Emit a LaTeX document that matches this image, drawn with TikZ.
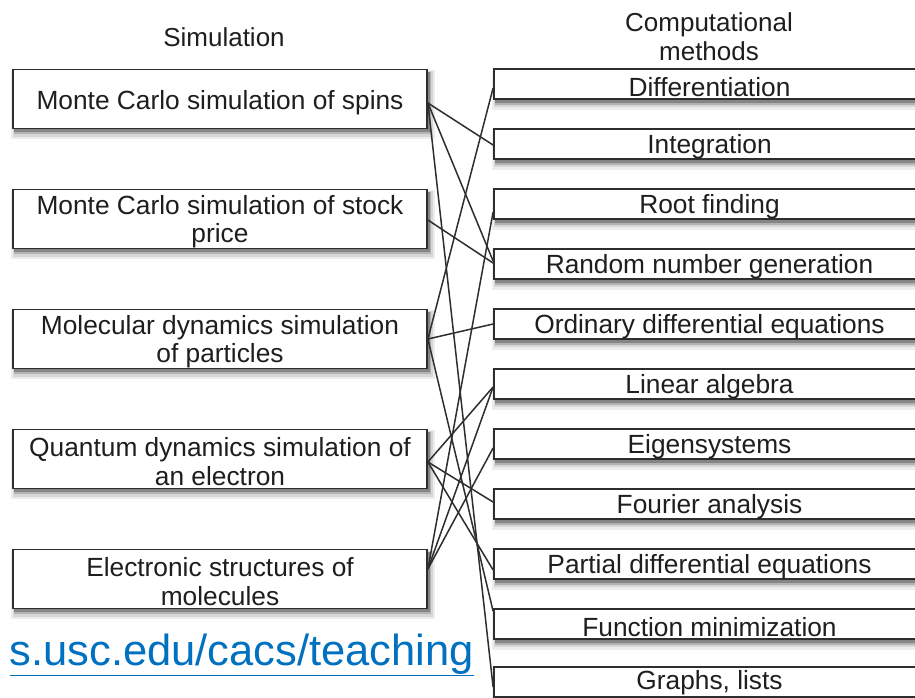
\documentclass[tikz,border=0pt]{standalone}
\usepackage{fontspec}
\setmainfont{Liberation Sans}
\usetikzlibrary{backgrounds}
\definecolor{txt}{HTML}{1E1E1E}
\definecolor{edgec}{HTML}{2E2E2E}
\definecolor{linkc}{HTML}{0070C0}
\tikzset{
  simbox/.style={draw=edgec,line width=1.8pt,fill=white,
    minimum width=414pt,minimum height=59pt,inner sep=0pt},
  methbox/.style={draw=edgec,line width=1.8pt,fill=white,
    minimum width=431pt,minimum height=30pt,inner sep=0pt},
  boxtext/.style={inner sep=0pt,align=center,text=txt,
    font=\fontsize{26.3}{28.3}\selectfont},
  heading/.style={text=txt,align=center,font=\fontsize{26}{29}\selectfont},
  link/.style={draw=edgec,line width=1.5pt},
  shadowA/.style={fill=black!7},
  shadowB/.style={fill=black!16},
  shadowC/.style={fill=black!30},
  shadowD/.style={fill=black!48}
}
\begin{document}
\begin{tikzpicture}[x=1pt,y=-1pt]
\useasboundingbox (0,0) rectangle (915,697);
\clip (0,0) rectangle (915,697);

\node[heading] (h1) at (224,37) {Simulation};
\node[heading] (h2) at (709,37) {Computational\\methods};

\node[simbox] (s1) at (220,99) {};
\node[simbox] (s2) at (220,219) {};
\node[simbox] (s3) at (220,339) {};
\node[simbox] (s4) at (220,459) {};
\node[simbox] (s5) at (220,579) {};
\node[boxtext] (t1) at ([yshift=-4pt]s1.center) {Monte Carlo simulation of spins};
\node[boxtext] (t2) at ([yshift=-2.5pt]s2.center) {Monte Carlo simulation of stock\\price};
\node[boxtext] (t3) at ([yshift=-2.5pt]s3.center) {Molecular dynamics simulation\\of particles};
\node[boxtext] (t4) at ([yshift=-2.5pt]s4.center) {Quantum dynamics simulation of\\an electron};
\node[boxtext] (t5) at ([yshift=-2.5pt]s5.center) {Electronic structures of\\molecules};

\node[methbox] (m1) at (709.5,84) {};
\node[methbox] (m2) at (709.5,144) {};
\node[methbox] (m3) at (709.5,204) {};
\node[methbox] (m4) at (709.5,264) {};
\node[methbox] (m5) at (709.5,324) {};
\node[methbox] (m6) at (709.5,384) {};
\node[methbox] (m7) at (709.5,444) {};
\node[methbox] (m8) at (709.5,504) {};
\node[methbox] (m9) at (709.5,564) {};
\node[methbox] (m10) at (709.5,624) {};
\node[methbox] (m11) at (709.5,682) {};
\node[boxtext] (u1) at ([yshift=-3pt]m1.center) {Differentiation};
\node[boxtext] (u2) at ([yshift=-3pt]m2.center) {Integration};
\node[boxtext] (u3) at ([yshift=-3pt]m3.center) {Root finding};
\node[boxtext] (u4) at ([yshift=-3pt]m4.center) {Random number generation};
\node[boxtext] (u5) at ([yshift=-3pt]m5.center) {Ordinary differential equations};
\node[boxtext] (u6) at ([yshift=-3pt]m6.center) {Linear algebra};
\node[boxtext] (u7) at ([yshift=-3pt]m7.center) {Eigensystems};
\node[boxtext] (u8) at ([yshift=-3pt]m8.center) {Fourier analysis};
\node[boxtext] (u9) at ([yshift=-3pt]m9.center) {Partial differential equations};
\node[boxtext] (u10) at ([yshift=-3pt]m10.center) {Function minimization};
\node[boxtext] (u11) at ([yshift=-1pt]m11.center) {Graphs, lists};

% soft shadows behind the boxes
\begin{scope}[on background layer]
  \fill[white] (0,0) rectangle (915,697);
  \foreach \b in {s1,s2,s3,s4,s5,m1,m2,m3,m4,m5,m6,m7,m8,m9,m10,m11}{
    \fill[shadowA] ([xshift=-1pt,yshift=-1pt]\b.north west) rectangle ([xshift=7pt,yshift=-10pt]\b.south east);
    \fill[shadowB] ([xshift=1pt,yshift=-2pt]\b.north west) rectangle ([xshift=5pt,yshift=-7.5pt]\b.south east);
    \fill[shadowC] ([xshift=2pt,yshift=-3pt]\b.north west) rectangle ([xshift=3.5pt,yshift=-5pt]\b.south east);
    \fill[shadowD] ([xshift=2pt,yshift=-3pt]\b.north west) rectangle ([xshift=2pt,yshift=-3pt]\b.south east);
  }
\end{scope}

% connectors
\coordinate (a1) at ([yshift=-4pt]s1.east);
\coordinate (a2) at ([yshift=-1pt]s2.east);
\coordinate (a3) at (s3.east);
\coordinate (a4) at ([yshift=-3pt]s4.east);
\coordinate (a5) at ([yshift=10pt]s5.east);

\draw[link] (a1) -- ([yshift=-1pt]m2.west);
\draw[link] (a1) -- ([yshift=3pt]m4.west);
\draw[link] (a1) -- ([yshift=-5pt]m11.west);
\draw[link] (a2) -- ([yshift=1pt]m4.west);
\draw[link] (a3) -- ([yshift=-4pt]m1.west);
\draw[link] (a3) -- (m5.west);
\draw[link] (a3) -- ([yshift=-3pt]m10.north west);
\draw[link] (a4) -- ([yshift=-3pt]m6.west);
\draw[link] (a4) -- ([yshift=2pt]m8.west);
\draw[link] (a4) -- ([yshift=-6pt]m9.west);
\draw[link] (a5) -- ([yshift=-8pt]m3.west);
\draw[link] (a5) -- ([yshift=-3pt]m6.west);
\draw[link] (a5) -- ([yshift=-4pt]m7.west);

\node[anchor=base east,text=linkc,inner sep=0pt,font=\fontsize{43.5}{48}\selectfont] (url) at (474,665) {\underline{s.usc.edu/cacs/teaching}};
\end{tikzpicture}
\end{document}
